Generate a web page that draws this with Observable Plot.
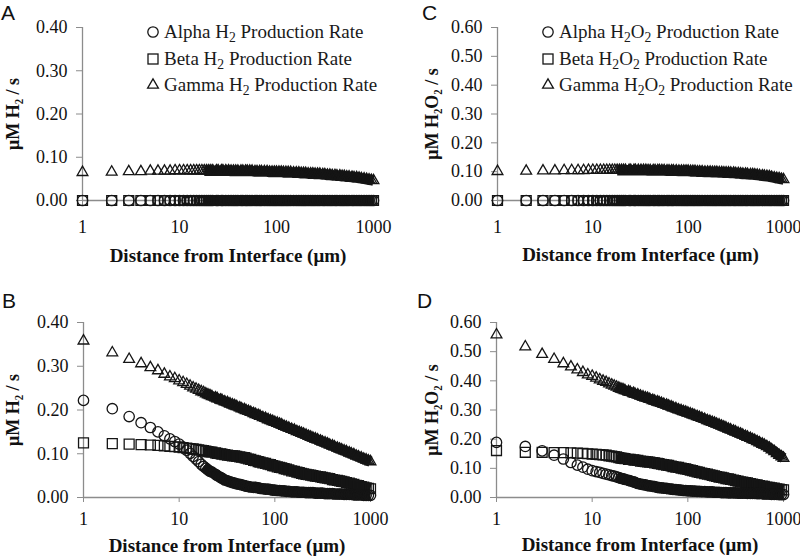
<!DOCTYPE html>
<html>
<head>
<meta charset="utf-8">
<script src="https://cdn.jsdelivr.net/npm/d3@7"></script>
<script src="https://cdn.jsdelivr.net/npm/@observablehq/plot@0.6"></script>
<style>
  html, body { margin: 0; padding: 0; background: #fff; }
  #wrap { position: relative; width: 800px; height: 557px; overflow: hidden; font-family: "Liberation Serif", "Times New Roman", serif; color: #111; }
  #wrap svg, #wrap svg text { font-family: "Liberation Serif", "Times New Roman", serif !important; }
  .panel { position: absolute; }
  .letter { position: absolute; font-family: "Liberation Sans", Arial, sans-serif; font-size: 21px; line-height: 1; color: #111; }
  .legend { position: absolute; font-size: 19px; color: #1a1a1a; }
  .legend .row { position: absolute; left: 0; height: 22px; display: flex; align-items: center; white-space: nowrap; }
  .legend svg { width: 14px; height: 14px; margin-right: 4px; overflow: visible; }
  .legend sub { font-size: 0.72em; vertical-align: -0.28em; line-height: 0; }
  g[aria-label="x-axis tick"], g[aria-label="y-axis tick"] { stroke: #8c8c8c; }
  g[aria-label="x-axis"] .tick line, g[aria-label="y-axis"] .tick line { stroke: #8c8c8c; }
</style>
</head>
<body>
<div id="wrap"></div>
<script>
// ---------- data ----------
const distances = [
  1,2,3,4,5,6,7,8,9,10,
  11,12,13,14,15,16,17,18,19,20,
  21,22,24,25,27,28,30,32,34,36,
  38,40,43,45,48,50,53,56,60,63,
  67,70,75,80,85,90,95,100,106,112,
  118,125,132,140,150,160,170,180,190,200,
  212,225,237,250,265,280,300,315,335,355,
  375,400,420,450,475,500,530,560,600,630,
  670,710,750,800,850,900,950,1000
];

const xTicks = [1, 10, 100, 1000];
const yTicksH2 = [0, 0.1, 0.2, 0.3, 0.4];
const yTicksH2O2 = [0, 0.1, 0.2, 0.3, 0.4, 0.5, 0.6];

const seriesNames = ["Alpha", "Beta", "Gamma"];

// Panel A: H2, surface
const alphaH2_A = [
  0,0,0,0,0,0,0,0,0,0, 0,0,0,0,0,0,0,0,0,0,
  0,0,0,0,0,0,0,0,0,0, 0,0,0,0,0,0,0,0,0,0,
  0,0,0,0,0,0,0,0,0,0, 0,0,0,0,0,0,0,0,0,0,
  0,0,0,0,0,0,0,0,0,0, 0,0,0,0,0,0,0,0,0,0,
  0,0,0,0,0,0,0,0
];
const betaH2_A = [
  0,0,0,0,0,0,0,0,0,0, 0,0,0,0,0,0,0,0,0,0,
  0,0,0,0,0,0,0,0,0,0, 0,0,0,0,0,0,0,0,0,0,
  0,0,0,0,0,0,0,0,0,0, 0,0,0,0,0,0,0,0,0,0,
  0,0,0,0,0,0,0,0,0,0, 0,0,0,0,0,0,0,0,0,0,
  0,0,0,0,0,0,0,0
];
const gammaH2_A = [
  .065,.066,.067,.067,.068,.068,.068,.068,.069,.069,
  .069,.069,.069,.069,.069,.069,.069,.069,.069,.069,
  .069,.069,.069,.069,.069,.069,.069,.069,.068,.068,
  .068,.068,.068,.068,.068,.068,.068,.068,.067,.067,
  .067,.067,.067,.067,.066,.066,.066,.066,.066,.066,
  .065,.065,.065,.065,.064,.064,.064,.063,.063,.063,
  .062,.062,.062,.061,.061,.061,.060,.060,.059,.059,
  .058,.058,.057,.057,.056,.056,.055,.055,.054,.053,
  .053,.052,.051,.050,.049,.048,.047,.046
];

// Panel C: H2O2, surface
const alphaH2O2_C = [
  0,0,0,0,0,0,0,0,0,0, 0,0,0,0,0,0,0,0,0,0,
  0,0,0,0,0,0,0,0,0,0, 0,0,0,0,0,0,0,0,0,0,
  0,0,0,0,0,0,0,0,0,0, 0,0,0,0,0,0,0,0,0,0,
  0,0,0,0,0,0,0,0,0,0, 0,0,0,0,0,0,0,0,0,0,
  0,0,0,0,0,0,0,0
];
const betaH2O2_C = [
  0,0,0,0,0,0,0,0,0,0, 0,0,0,0,0,0,0,0,0,0,
  0,0,0,0,0,0,0,0,0,0, 0,0,0,0,0,0,0,0,0,0,
  0,0,0,0,0,0,0,0,0,0, 0,0,0,0,0,0,0,0,0,0,
  0,0,0,0,0,0,0,0,0,0, 0,0,0,0,0,0,0,0,0,0,
  0,0,0,0,0,0,0,0
];
const gammaH2O2_C = [
  .101,.102,.103,.103,.104,.104,.104,.104,.105,.105,
  .105,.105,.105,.105,.105,.105,.105,.105,.105,.105,
  .105,.105,.105,.105,.105,.105,.105,.105,.105,.105,
  .104,.104,.104,.104,.104,.104,.104,.104,.103,.103,
  .103,.103,.103,.102,.102,.102,.102,.102,.101,.101,
  .101,.100,.100,.100,.099,.099,.099,.098,.098,.098,
  .097,.097,.096,.096,.096,.095,.095,.094,.094,.093,
  .092,.092,.091,.090,.090,.089,.088,.087,.086,.085,
  .084,.083,.081,.079,.077,.076,.074,.073
];

// Panel B: H2
const alphaH2_B = [
  .222,.203,.185,.171,.160,.150,.141,.134,.128,.122,
  .115,.108,.101,.094,.088,.082,.076,.071,.067,.063,
  .060,.058,.053,.050,.046,.044,.040,.038,.036,.034,
  .033,.031,.030,.029,.027,.026,.025,.024,.023,.023,
  .022,.021,.020,.019,.019,.018,.017,.017,.016,.016,
  .015,.015,.014,.014,.013,.013,.013,.012,.012,.012,
  .011,.011,.011,.011,.010,.010,.010,.010,.009,.009,
  .009,.009,.008,.008,.008,.008,.007,.007,.007,.007,
  .006,.006,.006,.006,.005,.005,.005,.005
];
const betaH2_B = [
  .125,.123,.122,.121,.120,.119,.118,.117,.116,.115,
  .114,.113,.112,.111,.110,.109,.108,.107,.106,.105,
  .104,.104,.102,.101,.100,.099,.098,.097,.096,.095,
  .095,.094,.093,.092,.091,.090,.088,.087,.085,.084,
  .082,.081,.079,.078,.076,.075,.073,.072,.070,.069,
  .068,.066,.065,.063,.061,.060,.058,.057,.055,.054,
  .053,.052,.051,.050,.049,.048,.047,.046,.045,.044,
  .043,.041,.040,.039,.038,.037,.036,.034,.033,.031,
  .030,.028,.027,.025,.024,.022,.021,.020
];
const gammaH2_B = [
  .358,.331,.316,.306,.297,.290,.282,.276,.272,.267,
  .263,.259,.255,.251,.248,.245,.242,.240,.237,.235,
  .233,.231,.228,.226,.223,.222,.219,.217,.214,.212,
  .210,.208,.205,.203,.201,.199,.197,.195,.192,.190,
  .188,.186,.183,.181,.178,.176,.174,.172,.170,.168,
  .166,.163,.161,.159,.156,.154,.151,.149,.147,.145,
  .143,.140,.138,.136,.134,.132,.129,.127,.125,.123,
  .120,.118,.116,.113,.111,.109,.107,.105,.102,.100,
  .098,.095,.093,.091,.088,.086,.084,.082
];

// Panel D: H2O2
const alphaH2O2_D = [
  .189,.175,.160,.145,.132,.120,.111,.104,.097,.092,
  .089,.086,.083,.080,.078,.075,.073,.071,.068,.066,
  .064,.062,.059,.057,.054,.052,.048,.046,.044,.043,
  .041,.040,.038,.037,.035,.034,.033,.032,.031,.030,
  .029,.028,.027,.026,.025,.024,.024,.023,.023,.022,
  .022,.021,.021,.020,.020,.019,.019,.019,.018,.018,
  .018,.017,.017,.017,.016,.016,.016,.016,.015,.015,
  .015,.015,.014,.014,.014,.014,.013,.013,.013,.012,
  .012,.012,.011,.011,.011,.010,.010,.010
];
const betaH2O2_D = [
  .161,.155,.155,.154,.154,.153,.152,.151,.150,.149,
  .148,.147,.146,.145,.143,.142,.140,.139,.137,.135,
  .134,.133,.131,.131,.129,.128,.127,.125,.124,.123,
  .122,.121,.120,.119,.117,.116,.114,.113,.111,.110,
  .108,.106,.104,.103,.101,.099,.098,.096,.094,.092,
  .090,.088,.086,.084,.082,.080,.078,.076,.074,.072,
  .070,.069,.067,.065,.064,.062,.060,.058,.056,.054,
  .053,.051,.050,.048,.046,.044,.043,.041,.039,.038,
  .036,.035,.033,.032,.030,.029,.027,.026
];
const gammaH2O2_D = [
  .558,.517,.491,.474,.459,.448,.438,.429,.421,.416,
  .410,.404,.399,.395,.390,.386,.382,.379,.375,.372,
  .370,.367,.363,.361,.357,.355,.352,.348,.345,.342,
  .340,.337,.333,.331,.328,.326,.323,.320,.317,.314,
  .311,.308,.305,.301,.298,.295,.293,.290,.287,.284,
  .281,.278,.275,.272,.268,.264,.261,.258,.255,.252,
  .249,.245,.242,.239,.235,.232,.228,.225,.221,.218,
  .214,.210,.207,.203,.199,.196,.192,.188,.183,.180,
  .175,.170,.164,.158,.151,.145,.140,.135
];

// ---------- drawing ----------
const INK = "#151515";
const AXIS = "#8c8c8c";
const SERIF = '"Liberation Serif", "Times New Roman", serif';
const xTitle = "Distance from Interface (μm)";
const DENSE_FROM = 18; // beyond this distance the overlapping markers merge into a solid band

function rows(values) {
  return distances.map((d, i) => ({d, v: values[i]}));
}

function panel(opt) {
  const [alpha, beta, gamma] = opt.series;
  const band = (values) => Plot.line(rows(values).filter(r => r.d >= DENSE_FROM),
    {x: "d", y: "v", stroke: INK, strokeWidth: 10.5, strokeLinejoin: "round", strokeLinecap: "butt"});
  return Plot.plot({
    width: 400,
    height: opt.height,
    marginLeft: opt.ml, marginRight: opt.mr, marginTop: opt.mt, marginBottom: opt.mb,
    style: {fontFamily: SERIF, fontSize: "18px", color: "#111", background: "transparent", overflow: "visible"},
    x: {type: "log", domain: [1, 1000], ticks: xTicks, tickFormat: d => String(d), tickSize: 5, tickPadding: opt.xpad, label: null},
    y: {domain: [0, opt.ymax], ticks: opt.yticks, tickFormat: d => d.toFixed(2), tickSize: 6, tickPadding: 9, label: null},
    marks: [
      Plot.ruleY([0], {stroke: AXIS, strokeWidth: 1.3}),
      Plot.ruleX([1], {stroke: AXIS, strokeWidth: 1.3}),
      band(gamma), band(beta), band(alpha),
      Plot.dot(rows(gamma), {x: "d", y: "v", symbol: "triangle", r: 4.0, stroke: INK, strokeWidth: 1.3, fill: "none"}),
      Plot.dot(rows(beta), {x: "d", y: "v", symbol: "square", r: 5.6, stroke: INK, strokeWidth: 1.3, fill: "none"}),
      Plot.dot(rows(alpha), {x: "d", y: "v", symbol: "circle", r: 5.2, stroke: INK, strokeWidth: 1.3, fill: "none"}),
      Plot.text([xTitle], {frameAnchor: "bottom", dy: opt.xTitleDy, textAnchor: "middle", lineAnchor: "middle",
        text: d => d, fontFamily: SERIF, fontWeight: "bold", fontSize: 19, fill: "#111"}),
      Plot.text([opt.ylabel], {frameAnchor: "left", dx: opt.yTitleDx, rotate: -90, textAnchor: "middle", lineAnchor: "middle",
        text: d => d, fontFamily: SERIF, fontWeight: "bold", fontSize: 18, fill: "#111"})
    ]
  });
}

const wrap = document.getElementById("wrap");

function place(node, left, top) {
  const div = document.createElement("div");
  div.className = "panel";
  div.style.left = left + "px";
  div.style.top = top + "px";
  div.appendChild(node);
  wrap.appendChild(div);
}

place(panel({series: [alphaH2_A, betaH2_A, gammaH2_A], ymax: 0.4, yticks: yTicksH2, ylabel: "μM H₂ / s",
  height: 270, ml: 82, mr: 27, mt: 27, mb: 70, xpad: 15, xTitleDy: 55, yTitleDx: -69}), 0, 0);
place(panel({series: [alphaH2O2_C, betaH2O2_C, gammaH2O2_C], ymax: 0.6, yticks: yTicksH2O2, ylabel: "μM H₂O₂ / s",
  height: 270, ml: 97, mr: 17, mt: 27, mb: 70, xpad: 15, xTitleDy: 54, yTitleDx: -65}), 400, 0);
place(panel({series: [alphaH2_B, betaH2_B, gammaH2_B], ymax: 0.4, yticks: yTicksH2, ylabel: "μM H₂ / s",
  height: 287, ml: 83, mr: 30, mt: 52, mb: 60, xpad: 10, xTitleDy: 48, yTitleDx: -70}), 0, 270);
place(panel({series: [alphaH2O2_D, betaH2O2_D, gammaH2O2_D], ymax: 0.6, yticks: yTicksH2O2, ylabel: "μM H₂O₂ / s",
  height: 287, ml: 96, mr: 17, mt: 52, mb: 60, xpad: 10, xTitleDy: 47, yTitleDx: -64}), 400, 270);

// panel letters
[["A", 1, 2], ["C", 422, 2], ["B", 2, 290], ["D", 417, 290]].forEach(([t, x, y]) => {
  const s = document.createElement("div");
  s.className = "letter";
  s.textContent = t;
  s.style.left = x + "px";
  s.style.top = y + "px";
  wrap.appendChild(s);
});

// legends (panels A and C)
const symbolSvg = {
  circle: '<svg viewBox="-7 -7 14 14"><circle r="5.2" fill="none" stroke="#151515" stroke-width="1.3"/></svg>',
  square: '<svg viewBox="-7 -7 14 14"><rect x="-5" y="-5" width="10" height="10" fill="none" stroke="#151515" stroke-width="1.3"/></svg>',
  triangle: '<svg viewBox="-7 -7 14 14"><path d="M0,-6.2L5.4,3.1L-5.4,3.1Z" fill="none" stroke="#151515" stroke-width="1.3"/></svg>'
};
const legendSymbols = ["circle", "square", "triangle"];
function legend(left, species) {
  const box = document.createElement("div");
  box.className = "legend";
  box.style.left = left + "px";
  box.style.top = "0px";
  const centers = [32, 58.5, 85];
  seriesNames.forEach((name, i) => {
    const r = document.createElement("div");
    r.className = "row";
    r.style.top = (centers[i] - 11) + "px";
    r.innerHTML = symbolSvg[legendSymbols[i]] + "<span>" + name + " " + species + " Production Rate</span>";
    box.appendChild(r);
  });
  wrap.appendChild(box);
}
legend(146, "H<sub>2</sub>");
legend(541, "H<sub>2</sub>O<sub>2</sub>");
</script>
</body>
</html>
